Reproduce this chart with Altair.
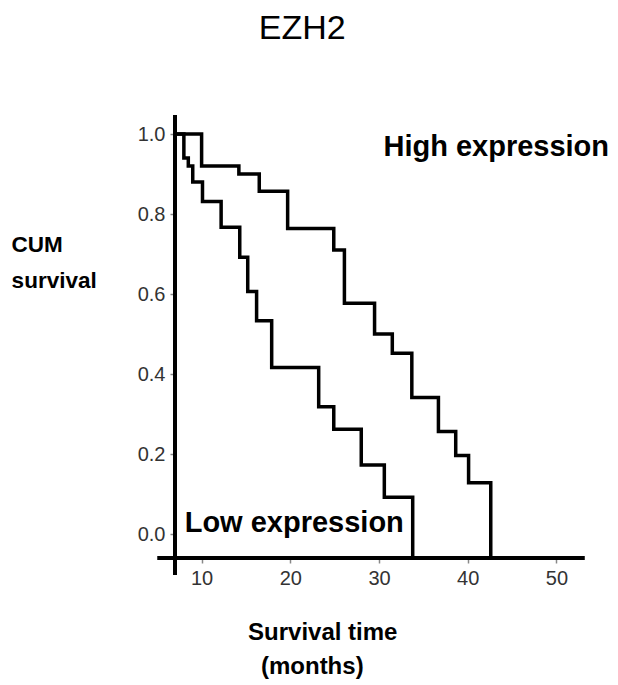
import altair as alt
import pandas as pd

# ---- data ----
high_months = [7.0, 10.0, 14.2, 16.5, 19.7, 24.9, 26.1, 29.5, 31.5, 33.7, 36.7, 38.65, 40.1, 42.6]
high_surv   = [1.0, 0.92, 0.90, 0.857, 0.764, 0.71, 0.577, 0.50, 0.452, 0.341, 0.256, 0.196, 0.128, 0.0]
low_months  = [7.0, 8.0, 8.5, 9.0, 10.1, 12.2, 14.3, 15.2, 16.2, 17.9, 23.2, 24.9, 28.0, 30.6, 33.8]
low_surv    = [1.0, 0.94, 0.92, 0.88, 0.831, 0.767, 0.692, 0.606, 0.533, 0.416, 0.318, 0.262, 0.1725, 0.092, 0.0]

x_ticks = [10, 20, 30, 40, 50]
y_ticks = [0.0, 0.2, 0.4, 0.6, 0.8, 1.0]

X_MIN, X_MAX = 7.0, 53.0
Y_MIN, Y_MAX = -0.06, 1.0

FONT = "Liberation Sans"

# curves end on the x-axis line
def curve(months, surv, name):
    ys = list(surv)
    ys[-1] = Y_MIN
    return pd.DataFrame({"month": months, "surv": ys, "group": name})

df = pd.concat([curve(high_months, high_surv, "High"), curve(low_months, low_surv, "Low")])

xs = alt.Scale(domain=[X_MIN, X_MAX], nice=False, zero=False)
ys = alt.Scale(domain=[Y_MIN, Y_MAX], nice=False, zero=False)

base = alt.Chart(df)

lines = base.mark_line(interpolate="step-after", color="black", strokeWidth=3.5).encode(
    x=alt.X("month:Q", scale=xs,
            axis=alt.Axis(values=x_ticks, format="d", domain=False, grid=False,
                          tickColor="#888", tickWidth=1.5, tickSize=5,
                          labelFont=FONT, labelFontSize=20, labelColor="#333",
                          labelPadding=5, title=None)),
    y=alt.Y("surv:Q", scale=ys,
            axis=alt.Axis(values=y_ticks, format=".1f", domain=False, grid=False,
                          tickColor="#888", tickWidth=1.5, tickSize=5,
                          labelFont=FONT, labelFontSize=20, labelColor="#333",
                          labelPadding=5, title=None)),
    detail="group:N",
)

# axis lines (crossing at the lower left)
xaxis_df = pd.DataFrame({"x": [5.0], "x2": [53.2], "y": [Y_MIN]})
yaxis_df = pd.DataFrame({"x": [7.0], "y": [1.0475], "y2": [-0.1025]})

xaxis = alt.Chart(xaxis_df).mark_rule(color="black", strokeWidth=4).encode(
    x=alt.X("x:Q", scale=xs), x2="x2:Q", y=alt.Y("y:Q", scale=ys))
yaxis = alt.Chart(yaxis_df).mark_rule(color="black", strokeWidth=4).encode(
    x=alt.X("x:Q", scale=xs), y=alt.Y("y:Q", scale=ys), y2="y2:Q")

# annotations (placed in data coordinates)
def txt(text, x, y, size, weight, align):
    d = pd.DataFrame({"t": [text], "x": [x], "y": [y]})
    return alt.Chart(d).mark_text(font=FONT, fontSize=size, fontWeight=weight, align=align,
                                  baseline="alphabetic", color="black").encode(
        x=alt.X("x:Q", scale=xs), y=alt.Y("y:Q", scale=ys), text="t:N")

texts = [
    txt("EZH2", 21.35, 1.2375, 34, "normal", "center"),
    txt("High  expression", 30.5, 0.945, 29, "bold", "left"),
    txt("Low expression", 8.09, 0.006, 29, "bold", "left"),
    txt("CUM", -11.42, 0.706, 22.5, "bold", "left"),
    txt("survival", -11.42, 0.615, 22.5, "bold", "left"),
    txt("Survival time", 23.66, -0.265, 24, "bold", "center"),
    txt("(months)", 22.48, -0.35, 24, "bold", "center"),
]

chart = alt.layer(lines, xaxis, yaxis, *texts).properties(
    width=408, height=424,
    autosize="none",
    background="white",
    padding={"left": 167, "top": 126, "right": 27, "bottom": 127},
).configure_view(strokeWidth=0, stroke="transparent")

chart.save("out.html", embed_options={"renderer": "svg", "actions": False})
